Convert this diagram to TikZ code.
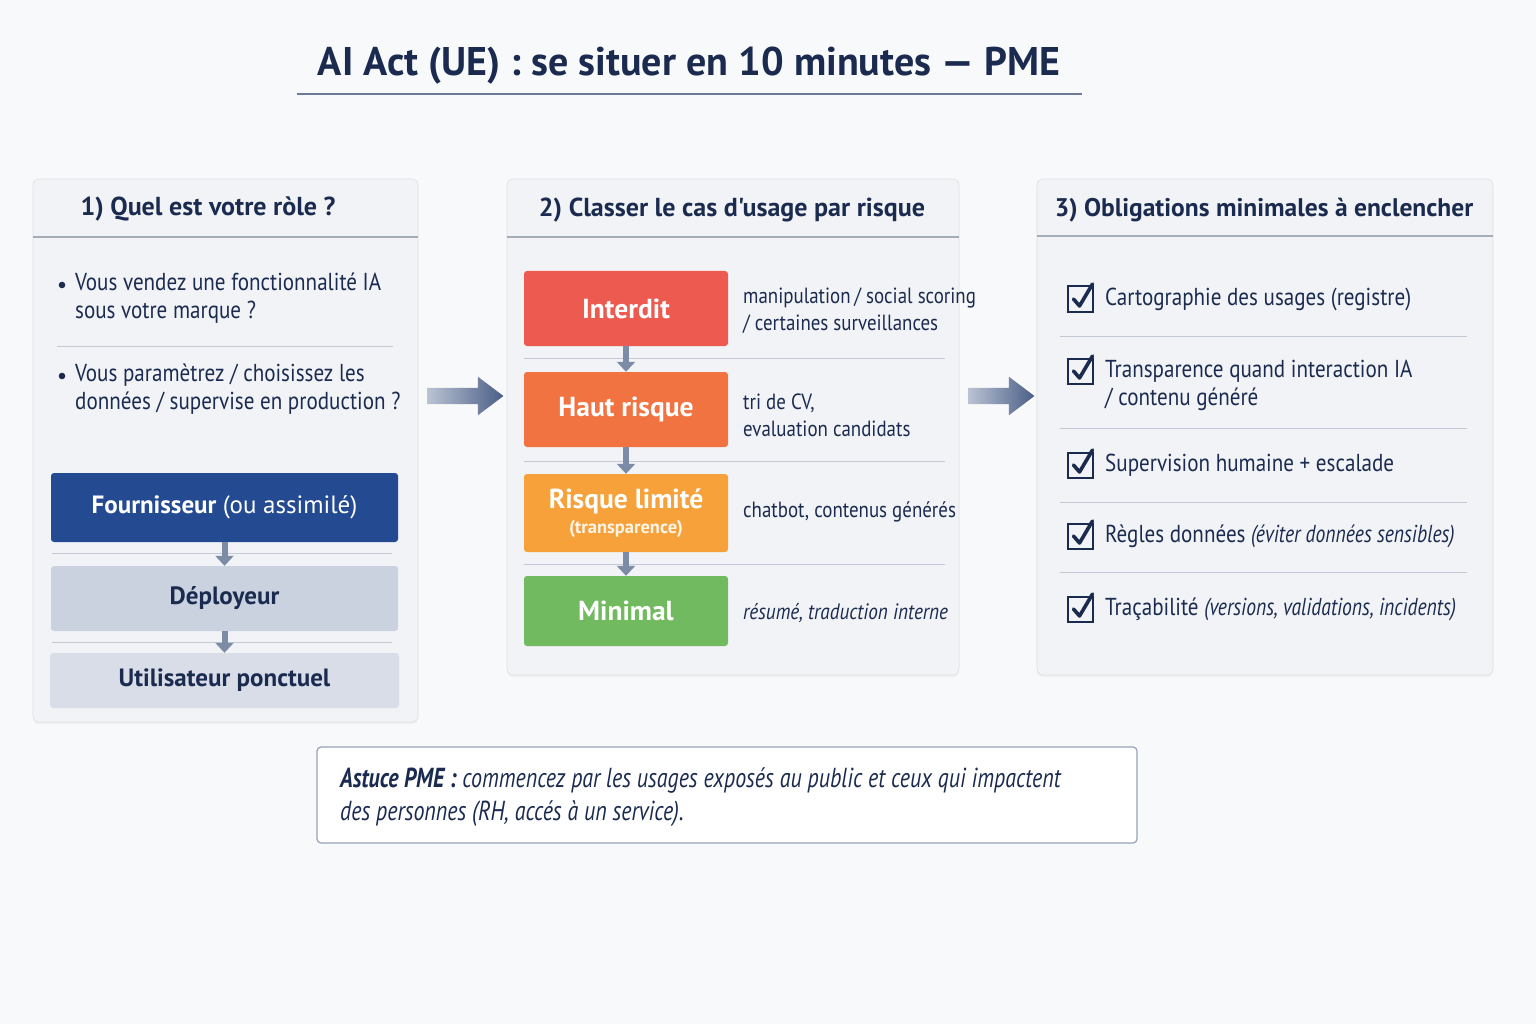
\documentclass[tikz,border=0pt]{standalone}
\usepackage{fontspec}
\setmainfont{PT Sans}[FakeStretch=0.86]
\newfontfamily\hdfont{PT Sans}
\newfontfamily\notefont{PT Sans}[FakeStretch=0.8]
\usetikzlibrary{arrows.meta,positioning,shapes.arrows,shadows}

\definecolor{navy}{HTML}{1B2B50}
\definecolor{bgc}{HTML}{F8F9FB}
\definecolor{panelc}{HTML}{F1F3F6}
\definecolor{rulec}{HTML}{C3CAD6}
\definecolor{provc}{HTML}{244A92}
\definecolor{deplc}{HTML}{CAD2DF}
\definecolor{userc}{HTML}{D8DDE7}
\definecolor{redc}{HTML}{EC5A50}
\definecolor{orgc}{HTML}{F27342}
\definecolor{ambc}{HTML}{F6A13A}
\definecolor{grnc}{HTML}{72BA60}
\definecolor{arrc}{HTML}{7D8CA6}
\definecolor{bigdark}{HTML}{4A5E86}
\definecolor{biglight}{HTML}{BAC3D3}
\definecolor{titlerule}{HTML}{6B7A99}

\newcommand{\fsz}[2]{\fontsize{#1}{#2}\selectfont}

\tikzset{
  panel/.style={fill=panelc, draw=panelc!92!black, line width=0.6pt, rounded corners=6pt,
    drop shadow={opacity=0.07, shadow xshift=0pt, shadow yshift=-2pt}},
  paneltitle/.style={text=navy, font=\hdfont\fsz{26}{30}\bfseries, inner sep=0pt},
  hrule/.style={draw=rulec!85!black, line width=1.2pt},
  seprule/.style={draw=rulec, line width=1pt},
  bodytxt/.style={text=navy, font=\fsz{24.5}{28}, align=left, inner sep=0pt, anchor=west},
  rolebox/.style={rounded corners=3pt, minimum width=347, text=navy, font=\hdfont\fsz{25}{30}\bfseries},
  riskbox/.style={rounded corners=3pt, minimum width=204, text=white, font=\hdfont\fsz{27.5}{28}\bfseries, align=center},
  desc/.style={text=navy, font=\fsz{22}{27}, align=left, inner sep=0pt, anchor=west},
  obtxt/.style={text=navy, font=\fsz{24.5}{28}, align=left, inner sep=0pt, anchor=west},
  smallarr/.style={draw=arrc, line width=6pt, -{Triangle[width=18pt,length=10pt]}},
  bigarrow/.style={single arrow, minimum height=76, single arrow head extend=11,
    single arrow tip angle=74, inner sep=8pt, left color=biglight, right color=bigdark, draw=none},
  chkbox/.pic={
    \draw[navy, line width=2pt] (-12.5,-12.5) rectangle (12.5,12.5);
    \draw[navy, line width=3.6pt, line cap=round, line join=round] (-7,0) -- (-1,7) -- (12,-15);
  }
}

\begin{document}
\begin{tikzpicture}[x=1pt,y=-1pt,>=Latex]
\fill[bgc] (0,0) rectangle (1536,1024);
\useasboundingbox (0,0) rectangle (1536,1024);

\node[text=navy, font=\hdfont\fsz{40}{44}\bfseries, inner sep=0pt] (title) at (689,66) {AI Act (UE) : se situer en 10 minutes — PME};
\draw[titlerule, line width=2pt] (297,94) -- (1082,94);

% panneaux
\node[panel, minimum width=385, minimum height=543] (p1) at (225.5,450.5) {};
\node[panel, minimum width=452, minimum height=496] (p2) at (733,427) {};
\node[panel, minimum width=456, minimum height=496] (p3) at (1265,427) {};

\node[paneltitle] (h1) at (208,209) {1) Quel est votre ròle ?};
\node[paneltitle] (h2) at (732,210) {2) Classer le cas d'usage par risque};
\node[paneltitle, font=\hdfont\fsz{25.5}{30}\bfseries] (h3) at (1264,210) {3) Obligations minimales à enclencher};
\draw[hrule] (p1.west |- 0,237) -- (p1.east |- 0,237);
\draw[hrule] (p2.west |- 0,237) -- (p2.east |- 0,237);
\draw[hrule] (p3.west |- 0,236) -- (p3.east |- 0,236);

% 1) role
\node[bodytxt] (q1) at (75,298) {Vous vendez une fonctionnalité IA\\sous votre marque ?};
\node[bodytxt] (q2) at (75,389.5) {Vous paramètrez / choisissez les\\données / supervise en production ?};
\fill[navy] (62,285) circle (3.3);
\fill[navy] (62,376) circle (3.3);
\draw[seprule] (57,346) -- (393,346);

\node[rolebox, fill=provc, text=white, minimum height=69] (prov) at (224.5,507.5) {Fournisseur \mdseries(ou assimilé)};
\node[rolebox, fill=deplc, minimum height=65] (depl) at (224.5,598.5) {Déployeur};
\node[rolebox, fill=userc, minimum width=349, minimum height=55] (user) at (224.5,680.5) {Utilisateur ponctuel};
\draw[seprule] (52,553) -- (392,553);
\draw[seprule] (52,642) -- (392,642);
\draw[smallarr] (prov) -- (depl);
\draw[smallarr] (depl) -- (user);

% 2) risque
\node[riskbox, fill=redc, minimum height=75] (int) at (626,308.5) {Interdit};
\node[riskbox, fill=orgc, minimum height=75] (haut) at (626,409.5) {Haut risque};
\node[riskbox, fill=ambc, minimum height=78] (lim) at (626,513) {Risque limité\\[-3pt]{\fsz{18.5}{22}\color{white!88!ambc}(transparence)}};
\node[riskbox, fill=grnc, minimum height=70] (mini) at (626,611) {Minimal};
\foreach \yy in {358,461,564} {
  \draw[seprule] (524,\yy) -- (945,\yy);
}
\draw[smallarr] (int) -- (haut);
\draw[smallarr] (haut) -- (lim);
\draw[smallarr] (lim) -- (mini);

\node[desc] (d1) at (743,311) {manipulation\,/ social scoring\\/ certaines surveillances};
\node[desc] (d2) at (743,415.5) {tri de CV,\\evaluation candidats};
\node[desc] (d3) at (743,512) {chatbot, contenus générés};
\node[desc, font=\fsz{22.3}{27}\itshape] (d4) at (743,613) {résumé, traduction interne};

% 3) obligations
\node[obtxt] (ob1) at (1105,299) {Cartographie des usages (registre)};
\node[obtxt] (ob2) at (1105,385) {Transparence quand interaction IA\\/ contenu généré};
\node[obtxt] (ob3) at (1105,465) {Supervision humaine + escalade};
\node[obtxt] (ob4) at (1105,536) {Règles données {\notefont\itshape(éviter données sensibles)}};
\node[obtxt] (ob5) at (1105,609) {Traçabilité {\notefont\itshape(versions, validations, incidents)}};
\foreach \yy in {299,371,465,536,609} {
  \pic at (1080.5,\yy) {chkbox};
}
\foreach \yy in {336,428,502,572} {
  \draw[seprule] (1060,\yy) -- (1467,\yy);
}

% fleches entre etapes
\node[bigarrow] (a1) at (460,396) {};
\node[bigarrow, minimum height=66] (a2) at (996,396) {};

% astuce
\node[fill=white, draw=titlerule!70, line width=1.2pt, rounded corners=4pt, minimum width=820, minimum height=96] (note) at (727,795) {};
\node[text=navy, font=\notefont\fsz{27.5}{33}\itshape, align=left, inner sep=0pt, anchor=west] (tip) at (340,797)
  {\textbf{Astuce PME :} commencez par les usages exposés au public et ceux qui impactent\\des personnes (RH, accés à un service).};
\end{tikzpicture}
\end{document}
